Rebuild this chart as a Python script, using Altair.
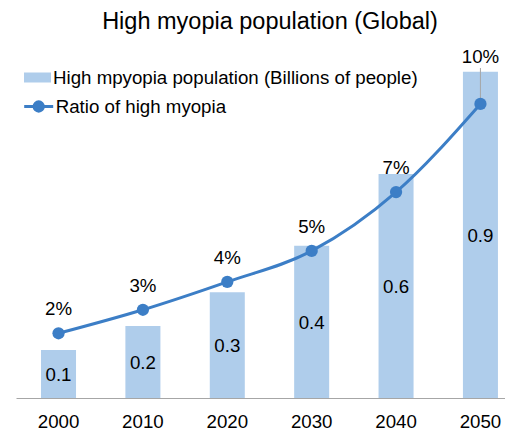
import altair as alt
import pandas as pd

# ---- data ----
years = ["2000", "2010", "2020", "2030", "2040", "2050"]
population = [0.133, 0.200, 0.294, 0.423, 0.622, 0.906]   # billions of people
ratio = [0.022, 0.030, 0.0395, 0.050, 0.070, 0.100]        # share of population

bar_name = "High mpyopia population (Billions of people)"
line_name = "Ratio of high myopia"
title_text = "High myopia population (Global)"

df = pd.DataFrame({
    "year": years,
    "pop": population,
    "ratio": ratio,
    "bar_series": bar_name,
    "line_series": line_name,
})

FONT = "Liberation Sans"
FS = 18.7
BAR = "#AFCDEB"
LINE = "#3C7EC6"
GRAY = "#A6A6A6"

base = alt.Chart(df)

x = alt.X(
    "year:N",
    sort=years,
    scale=alt.Scale(paddingInner=0.585, paddingOuter=0.19, align=0.78),
    axis=alt.Axis(
        title=None, ticks=False, labelAngle=0, labelFont=FONT, labelFontSize=FS,
        labelColor="#000000", labelPadding=14, domainColor=GRAY, domainWidth=1,
        grid=False,
    ),
)

ybar = alt.Scale(domain=[0, 1.0], nice=False, zero=True)
yline = alt.Scale(domain=[0, 0.1224], nice=False, zero=True)

bars = base.mark_bar().encode(
    x=x,
    y=alt.Y("pop:Q", scale=ybar, axis=None),
    fill=alt.Fill(
        "bar_series:N",
        scale=alt.Scale(domain=[bar_name], range=[BAR]),
        legend=alt.Legend(
            title=None, orient="none", legendX=8, legendY=26, padding=0,
            symbolType="M-1,-0.37H1V0.37H-1Z", symbolSize=729,
            symbolStrokeWidth=0, symbolOpacity=1,
            labelFont=FONT, labelFontSize=FS, labelColor="#000000",
            labelOffset=2, labelLimit=600,
        ),
    ),
)

bar_text = base.transform_calculate(mid="datum.pop / 2").mark_text(
    font=FONT, fontSize=FS, color="#000000", baseline="middle", dy=1
).encode(
    x=x,
    y=alt.Y("mid:Q", scale=ybar, axis=None),
    text=alt.Text("pop:Q", format=".1f"),
)

leader = base.transform_filter("datum.year == '2050'").transform_calculate(
    top="datum.ratio + 0.0122"
).mark_rule(color=GRAY, strokeWidth=1).encode(
    x=x,
    y=alt.Y("ratio:Q", scale=yline, axis=None),
    y2="top:Q",
)

line = base.mark_line(strokeWidth=3, interpolate="monotone").encode(
    x=x,
    y=alt.Y("ratio:Q", scale=yline, axis=None),
    stroke=alt.Stroke(
        "line_series:N",
        scale=alt.Scale(domain=[line_name], range=[LINE]),
        legend=alt.Legend(
            title=None, orient="none", legendX=6.7, legendY=52.5, padding=0,
            symbolType="M-1,0H1M-0.32,0A0.32,0.32 0 1,0 0.32,0A0.32,0.32 0 1,0 -0.32,0",
            symbolSize=841, symbolStrokeWidth=3, symbolFillColor=LINE,
            labelFont=FONT, labelFontSize=FS, labelColor="#000000",
            labelOffset=1, labelLimit=600,
        ),
    ),
)

points = base.mark_circle(size=150, color=LINE, opacity=1).encode(
    x=x,
    y=alt.Y("ratio:Q", scale=yline, axis=None),
)

line_text = base.transform_filter("datum.year != '2050'").mark_text(
    font=FONT, fontSize=FS, color="#000000", baseline="alphabetic", dy=-18
).encode(
    x=x,
    y=alt.Y("ratio:Q", scale=yline, axis=None),
    text=alt.Text("ratio:Q", format=".0%"),
)

line_text_last = base.transform_filter("datum.year == '2050'").mark_text(
    font=FONT, fontSize=FS, color="#000000", baseline="alphabetic", dy=-41
).encode(
    x=x,
    y=alt.Y("ratio:Q", scale=yline, axis=None),
    text=alt.Text("ratio:Q", format=".0%"),
)

bar_group = alt.layer(bars, bar_text)
line_group = alt.layer(leader, line, points, line_text, line_text_last)

chart = alt.layer(bar_group, line_group).resolve_scale(
    y="independent"
).properties(
    width=489,
    height=360,
    autosize=alt.AutoSizeParams(type="none"),
    padding={"left": 8, "top": 30, "right": 0, "bottom": 35},
    title=alt.Title(
        title_text, font=FONT, fontSize=23.5, fontWeight="normal",
        color="#000000", anchor="middle", dx=9.5, dy=25, offset=11,
        baseline="alphabetic",
    ),
).configure_view(stroke=None)

chart.save("out.html", embed_options={"renderer": "svg", "actions": False})
